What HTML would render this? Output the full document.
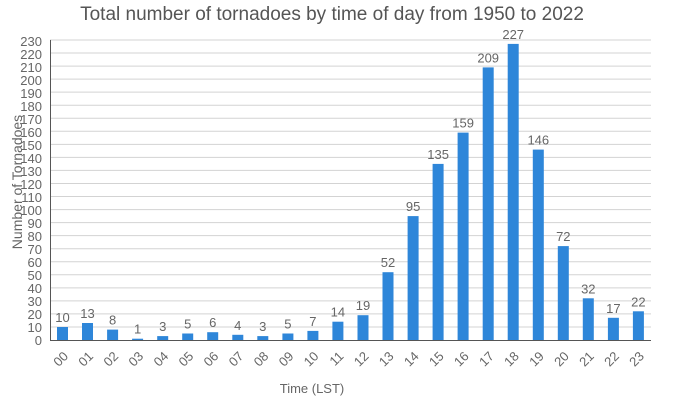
<!DOCTYPE html>
<html><head><meta charset="utf-8"><style>
body{margin:0;background:#fff}
svg{display:block;font-family:"Liberation Sans",sans-serif}
</style></head><body>
<svg width="700" height="400" xmlns="http://www.w3.org/2000/svg">
<text x="332" y="20" text-anchor="middle" font-size="19" fill="#555">Total number of tornadoes by time of day from 1950 to 2022</text>
<g stroke="#d3d3d3" stroke-width="1">
<line x1="50" x2="651" y1="326.96" y2="326.96"/><line x1="50" x2="651" y1="313.91" y2="313.91"/><line x1="50" x2="651" y1="300.87" y2="300.87"/><line x1="50" x2="651" y1="287.83" y2="287.83"/><line x1="50" x2="651" y1="274.78" y2="274.78"/><line x1="50" x2="651" y1="261.74" y2="261.74"/><line x1="50" x2="651" y1="248.7" y2="248.7"/><line x1="50" x2="651" y1="235.65" y2="235.65"/><line x1="50" x2="651" y1="222.61" y2="222.61"/><line x1="50" x2="651" y1="209.57" y2="209.57"/><line x1="50" x2="651" y1="196.52" y2="196.52"/><line x1="50" x2="651" y1="183.48" y2="183.48"/><line x1="50" x2="651" y1="170.43" y2="170.43"/><line x1="50" x2="651" y1="157.39" y2="157.39"/><line x1="50" x2="651" y1="144.35" y2="144.35"/><line x1="50" x2="651" y1="131.3" y2="131.3"/><line x1="50" x2="651" y1="118.26" y2="118.26"/><line x1="50" x2="651" y1="105.22" y2="105.22"/><line x1="50" x2="651" y1="92.17" y2="92.17"/><line x1="50" x2="651" y1="79.13" y2="79.13"/><line x1="50" x2="651" y1="66.09" y2="66.09"/><line x1="50" x2="651" y1="53.04" y2="53.04"/><line x1="50" x2="651" y1="40" y2="40"/>
</g>
<g font-size="13" fill="#666" text-anchor="end">
<text x="42" y="345">0</text><text x="42" y="332">10</text><text x="42" y="319">20</text><text x="42" y="306">30</text><text x="42" y="293">40</text><text x="42" y="280">50</text><text x="42" y="267">60</text><text x="42" y="254">70</text><text x="42" y="241">80</text><text x="42" y="228">90</text><text x="42" y="215">100</text><text x="42" y="202">110</text><text x="42" y="189">120</text><text x="42" y="176">130</text><text x="42" y="163">140</text><text x="42" y="150">150</text><text x="42" y="137">160</text><text x="42" y="124">170</text><text x="42" y="111">180</text><text x="42" y="98">190</text><text x="42" y="85">200</text><text x="42" y="72">210</text><text x="42" y="59">220</text><text x="42" y="46">230</text>
</g>
<g fill="#2e86d9">
<rect x="57" y="327" width="11" height="13"/><rect x="82" y="323" width="11" height="17"/><rect x="107.1" y="329.6" width="11" height="10.4"/><rect x="132.1" y="338.7" width="11" height="1.3"/><rect x="157.2" y="336.1" width="11" height="3.9"/><rect x="182.2" y="333.5" width="11" height="6.5"/><rect x="207.2" y="332.2" width="11" height="7.8"/><rect x="232.3" y="334.8" width="11" height="5.2"/><rect x="257.3" y="336.1" width="11" height="3.9"/><rect x="282.4" y="333.5" width="11" height="6.5"/><rect x="307.4" y="330.9" width="11" height="9.1"/><rect x="332.4" y="321.7" width="11" height="18.3"/><rect x="357.5" y="315.2" width="11" height="24.8"/><rect x="382.5" y="272.2" width="11" height="67.8"/><rect x="407.6" y="216.1" width="11" height="123.9"/><rect x="432.6" y="163.9" width="11" height="176.1"/><rect x="457.6" y="132.6" width="11" height="207.4"/><rect x="482.7" y="67.4" width="11" height="272.6"/><rect x="507.7" y="43.9" width="11" height="296.1"/><rect x="532.8" y="149.6" width="11" height="190.4"/><rect x="557.8" y="246.1" width="11" height="93.9"/><rect x="582.8" y="298.3" width="11" height="41.7"/><rect x="607.9" y="317.8" width="11" height="22.2"/><rect x="632.9" y="311.3" width="11" height="28.7"/>
</g>
<line x1="50.5" y1="40" x2="50.5" y2="340" stroke="#555"/>
<line x1="50" y1="340.5" x2="651" y2="340.5" stroke="#555"/>
<g font-size="13" fill="#666" text-anchor="middle">
<text x="62.5" y="322">10</text><text x="87.5" y="318">13</text><text x="112.6" y="324.6">8</text><text x="137.6" y="333.7">1</text><text x="162.7" y="331.1">3</text><text x="187.7" y="328.5">5</text><text x="212.7" y="327.2">6</text><text x="237.8" y="329.8">4</text><text x="262.8" y="331.1">3</text><text x="287.9" y="328.5">5</text><text x="312.9" y="325.9">7</text><text x="337.9" y="316.7">14</text><text x="363" y="310.2">19</text><text x="388" y="267.2">52</text><text x="413.1" y="211.1">95</text><text x="438.1" y="158.9">135</text><text x="463.1" y="127.6">159</text><text x="488.2" y="62.4">209</text><text x="513.2" y="38.9">227</text><text x="538.3" y="144.6">146</text><text x="563.3" y="241.1">72</text><text x="588.3" y="293.3">32</text><text x="613.4" y="312.8">17</text><text x="638.4" y="306.3">22</text>
</g>
<g font-size="13" fill="#666" text-anchor="end">
<text transform="translate(69,357) rotate(-45)">00</text><text transform="translate(94,357) rotate(-45)">01</text><text transform="translate(119.1,357) rotate(-45)">02</text><text transform="translate(144.1,357) rotate(-45)">03</text><text transform="translate(169.2,357) rotate(-45)">04</text><text transform="translate(194.2,357) rotate(-45)">05</text><text transform="translate(219.2,357) rotate(-45)">06</text><text transform="translate(244.3,357) rotate(-45)">07</text><text transform="translate(269.3,357) rotate(-45)">08</text><text transform="translate(294.4,357) rotate(-45)">09</text><text transform="translate(319.4,357) rotate(-45)">10</text><text transform="translate(344.4,357) rotate(-45)">11</text><text transform="translate(369.5,357) rotate(-45)">12</text><text transform="translate(394.5,357) rotate(-45)">13</text><text transform="translate(419.6,357) rotate(-45)">14</text><text transform="translate(444.6,357) rotate(-45)">15</text><text transform="translate(469.6,357) rotate(-45)">16</text><text transform="translate(494.7,357) rotate(-45)">17</text><text transform="translate(519.7,357) rotate(-45)">18</text><text transform="translate(544.8,357) rotate(-45)">19</text><text transform="translate(569.8,357) rotate(-45)">20</text><text transform="translate(594.8,357) rotate(-45)">21</text><text transform="translate(619.9,357) rotate(-45)">22</text><text transform="translate(644.9,357) rotate(-45)">23</text>
</g>
<text x="312" y="393" text-anchor="middle" font-size="13" fill="#666">Time (LST)</text>
<text transform="translate(22,182) rotate(-90)" text-anchor="middle" font-size="14" fill="#666">Number of Tornadoes</text>
</svg>
</body></html>
